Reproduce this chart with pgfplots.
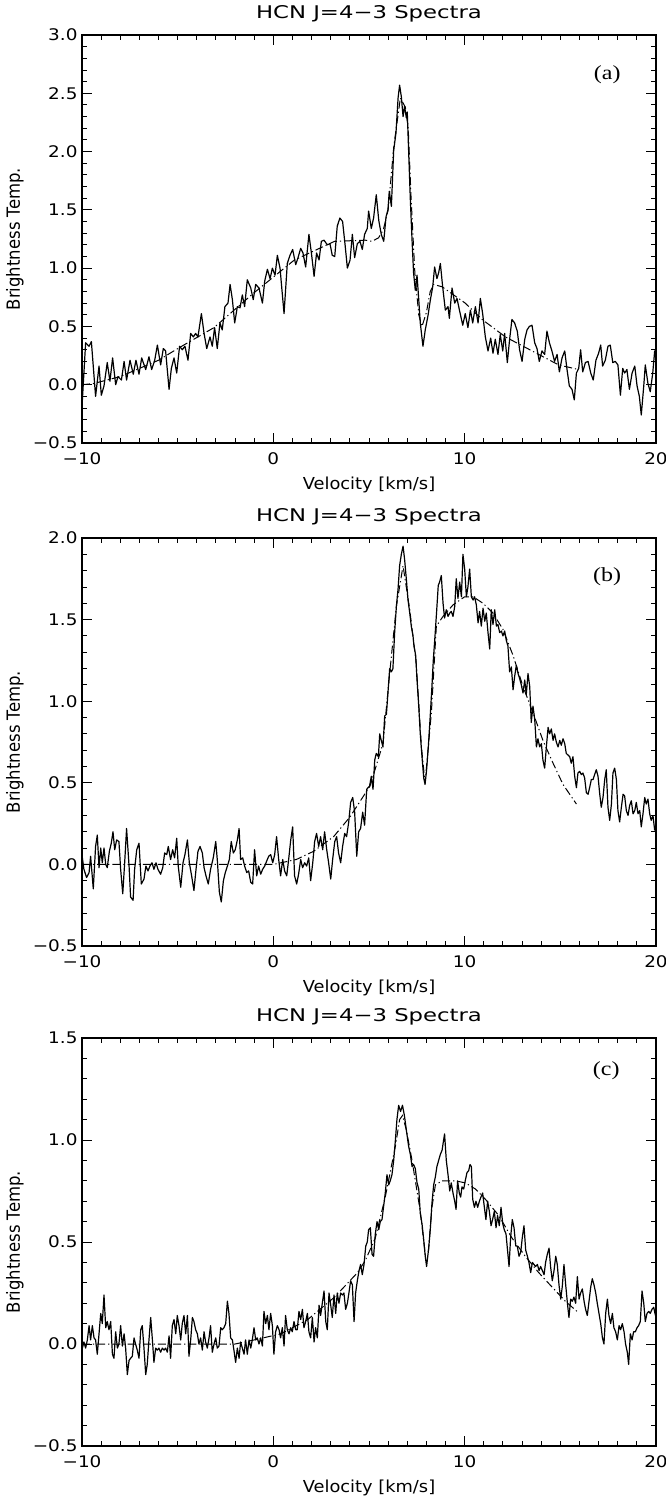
\documentclass[border=0pt]{standalone}
\usepackage{fontspec}
\setmainfont{DejaVu Sans}
\newfontfamily\titlefont{DejaVu Sans}[FakeStretch=1.3]
\newfontfamily\tickfont{DejaVu Sans}[FakeStretch=1.15]
\newfontfamily\labfont{DejaVu Sans}[FakeStretch=1.08]
\newfontfamily\lblfont{Liberation Serif}[FakeStretch=1.2]
\usepackage{graphicx}
\usepackage{pgfplots}
\pgfplotsset{compat=1.18}

% observed spectra (velocity, brightness temperature)
\pgfplotstableread{
v T
-9.98 -0.13
-9.81 0.36
-9.63 0.33
-9.51 0.37
-9.29 -0.10
-9.11 0.16
-8.99 -0.09
-8.85 -0.01
-8.68 0.19
-8.54 0.03
-8.40 0.23
-8.24 0.00
-8.12 0.07
-7.94 0.04
-7.80 0.20
-7.67 0.04
-7.49 0.21
-7.32 0.09
-7.18 0.21
-7.02 0.09
-6.88 0.23
-6.67 0.13
-6.50 0.24
-6.36 0.13
-6.20 0.21
-6.06 0.34
-5.89 0.17
-5.75 0.31
-5.63 0.29
-5.45 -0.04
-5.33 0.14
-5.19 0.23
-5.05 0.10
-4.90 0.33
-4.76 0.30
-4.62 0.33
-4.46 0.21
-4.32 0.44
-4.18 0.41
-4.06 0.44
-3.94 0.41
-3.76 0.61
-3.62 0.44
-3.48 0.31
-3.31 0.41
-3.19 0.33
-3.07 0.49
-2.93 0.31
-2.79 0.53
-2.67 0.47
-2.53 0.67
-2.37 0.70
-2.26 0.86
-2.14 0.73
-2.02 0.53
-1.88 0.67
-1.74 0.66
-1.62 0.77
-1.50 0.67
-1.36 0.90
-1.18 0.83
-1.05 0.73
-0.92 0.86
-0.75 0.83
-0.57 0.70
-0.45 0.89
-0.31 0.99
-0.17 0.91
-0.05 1.00
0.09 0.94
0.21 1.11
0.35 1.00
0.56 0.61
0.73 1.04
0.87 1.11
1.01 1.16
1.17 1.03
1.29 1.09
1.43 1.17
1.55 1.13
1.69 1.01
1.86 1.29
1.99 1.13
2.13 0.93
2.26 1.13
2.39 1.07
2.51 1.23
2.65 1.24
2.82 1.20
2.96 1.21
3.08 1.11
3.21 1.10
3.34 1.36
3.48 1.43
3.62 1.40
3.75 1.20
3.87 1.00
4.01 1.07
4.13 1.29
4.25 1.09
4.39 1.21
4.53 1.23
4.65 1.16
4.77 1.29
4.91 1.34
4.98 1.49
5.12 1.34
5.24 1.43
5.38 1.63
5.51 1.41
5.64 1.29
5.77 1.23
5.89 1.44
5.99 1.50
6.06 1.66
6.17 1.53
6.29 2.01
6.41 2.16
6.52 2.46
6.60 2.57
6.69 2.47
6.78 2.30
6.86 2.39
6.95 2.29
7.00 2.34
7.07 2.01
7.16 1.59
7.25 1.24
7.33 0.96
7.42 0.81
7.51 0.94
7.60 0.73
7.68 0.53
7.82 0.33
7.94 0.47
8.08 0.59
8.21 0.73
8.33 0.84
8.43 1.01
8.55 0.91
8.64 0.96
8.73 1.04
8.85 0.84
8.99 0.64
9.13 0.67
9.20 0.57
9.34 0.83
9.48 0.70
9.60 0.74
9.74 0.63
9.90 0.51
10.03 0.61
10.17 0.49
10.30 0.64
10.42 0.53
10.56 0.67
10.70 0.53
10.82 0.74
10.94 0.61
11.08 0.41
11.22 0.29
11.36 0.40
11.48 0.27
11.60 0.39
11.74 0.26
11.86 0.43
11.99 0.29
12.09 0.44
12.23 0.19
12.35 0.39
12.47 0.56
12.61 0.53
12.75 0.46
12.87 0.30
13.00 0.20
13.14 0.39
13.26 0.47
13.38 0.50
13.52 0.51
13.66 0.36
13.78 0.31
13.90 0.20
14.04 0.29
14.18 0.26
14.30 0.46
14.43 0.36
14.56 0.29
14.70 0.20
14.83 0.26
14.95 0.11
15.09 0.23
15.23 0.29
15.35 0.13
15.47 -0.01
15.61 -0.04
15.73 -0.13
15.84 0.10
15.96 0.14
16.06 0.30
16.17 0.11
16.31 0.19
16.45 0.20
16.59 0.10
16.72 0.04
16.86 0.21
17.00 0.27
17.11 0.34
17.21 0.16
17.35 0.21
17.49 0.33
17.61 0.34
17.74 0.19
17.87 0.20
18.01 0.17
18.14 -0.09
18.26 0.14
18.36 0.10
18.48 0.13
18.61 -0.04
18.75 0.10
18.89 0.16
19.01 -0.01
19.13 -0.10
19.23 -0.26
19.36 -0.01
19.44 0.17
19.58 0.01
19.70 -0.06
19.83 0.10
19.93 0.29
20.00 0.21
}\specA

\pgfplotstableread{
v T
-10.00 0.00
-9.40 0.01
-8.00 0.07
-7.00 0.14
-6.00 0.21
-5.00 0.31
-3.10 0.49
-1.00 0.79
1.10 1.07
3.20 1.23
4.80 1.24
5.15 1.23
5.50 1.26
5.75 1.33
6.00 1.50
6.30 2.05
6.64 2.46
6.90 2.38
7.05 2.20
7.20 1.60
7.40 0.95
7.60 0.60
7.77 0.50
8.00 0.62
8.20 0.80
8.38 0.86
8.82 0.84
10.03 0.70
10.91 0.56
12.13 0.41
13.52 0.29
14.91 0.17
15.96 0.13
}\fitA

\pgfplotstableread{
v T
-9.98 0.04
-9.90 -0.03
-9.76 -0.08
-9.63 -0.05
-9.55 0.05
-9.41 -0.15
-9.29 0.11
-9.20 0.18
-9.11 -0.02
-9.02 0.10
-8.94 0.01
-8.85 0.10
-8.76 0.00
-8.68 -0.02
-8.57 0.08
-8.47 0.13
-8.38 0.20
-8.29 0.09
-8.19 0.15
-8.07 0.14
-7.98 -0.03
-7.87 -0.18
-7.77 0.01
-7.67 0.22
-7.54 -0.01
-7.46 -0.20
-7.33 -0.22
-7.25 -0.03
-7.14 0.09
-7.02 0.13
-6.90 -0.12
-6.76 -0.09
-6.66 -0.01
-6.55 -0.04
-6.45 -0.01
-6.34 0.01
-6.24 -0.03
-6.13 0.01
-6.03 -0.03
-5.89 -0.06
-5.78 -0.02
-5.68 0.07
-5.57 0.06
-5.49 0.11
-5.37 0.03
-5.26 0.09
-5.16 0.04
-5.05 0.16
-4.97 -0.01
-4.84 -0.14
-4.72 0.01
-4.62 0.06
-4.49 0.15
-4.39 0.01
-4.27 -0.07
-4.15 -0.16
-4.04 -0.03
-3.94 0.08
-3.83 0.11
-3.71 0.07
-3.62 -0.02
-3.52 -0.07
-3.40 -0.12
-3.28 -0.03
-3.14 0.04
-3.01 0.14
-2.93 0.03
-2.82 -0.17
-2.72 -0.23
-2.61 -0.10
-2.51 -0.05
-2.40 -0.01
-2.30 0.03
-2.20 0.14
-2.09 0.07
-1.99 0.09
-1.88 0.15
-1.79 0.22
-1.71 0.03
-1.60 0.04
-1.50 -0.01
-1.39 -0.05
-1.29 -0.04
-1.18 -0.11
-1.08 -0.12
-0.98 0.09
-0.87 -0.07
-0.77 -0.01
-0.66 -0.06
-0.56 -0.03
-0.45 -0.01
-0.35 0.02
-0.24 0.05
-0.14 0.06
-0.03 0.01
0.07 0.06
0.17 0.17
0.28 0.03
0.38 -0.07
0.49 0.03
0.59 -0.04
0.70 -0.07
0.80 0.03
0.91 0.15
1.01 0.23
1.11 -0.07
1.22 -0.12
1.32 -0.06
1.43 0.03
1.53 -0.02
1.64 0.01
1.74 -0.01
1.85 0.04
1.95 -0.10
2.06 0.01
2.16 0.14
2.26 0.19
2.37 0.11
2.47 0.17
2.58 0.09
2.68 0.20
2.79 0.09
2.89 0.01
3.00 -0.09
3.10 0.03
3.21 0.14
3.31 0.17
3.41 0.07
3.52 0.01
3.62 0.11
3.73 0.19
3.83 0.17
3.94 0.26
4.04 0.38
4.15 0.41
4.25 0.32
4.36 0.05
4.46 0.20
4.56 0.22
4.67 0.32
4.77 0.24
4.88 0.46
4.95 0.47
5.03 0.48
5.12 0.54
5.21 0.46
5.30 0.64
5.38 0.68
5.49 0.66
5.56 0.80
5.64 0.76
5.73 0.72
5.82 0.91
5.91 0.92
5.99 1.05
6.08 1.20
6.17 1.18
6.25 1.20
6.34 1.42
6.43 1.58
6.52 1.69
6.60 1.83
6.69 1.90
6.78 1.95
6.86 1.87
6.95 1.75
7.04 1.62
7.13 1.54
7.21 1.46
7.30 1.40
7.35 1.34
7.44 1.28
7.51 1.13
7.60 0.97
7.68 0.80
7.77 0.66
7.86 0.53
7.93 0.49
8.01 0.58
8.10 0.72
8.19 0.89
8.28 1.07
8.36 1.25
8.45 1.40
8.54 1.56
8.62 1.71
8.69 1.73
8.78 1.77
8.87 1.60
8.95 1.51
9.04 1.56
9.13 1.52
9.22 1.54
9.30 1.55
9.39 1.52
9.48 1.58
9.56 1.75
9.65 1.63
9.74 1.73
9.83 1.64
9.91 1.90
10.00 1.81
10.09 1.64
10.17 1.70
10.26 1.81
10.35 1.64
10.44 1.62
10.52 1.64
10.61 1.59
10.70 1.48
10.78 1.55
10.87 1.46
10.96 1.57
11.05 1.49
11.13 1.54
11.22 1.42
11.31 1.32
11.39 1.56
11.48 1.47
11.57 1.56
11.66 1.46
11.74 1.47
11.83 1.42
11.92 1.43
12.00 1.40
12.09 1.43
12.18 1.37
12.26 1.34
12.35 1.18
12.44 1.21
12.53 1.07
12.61 1.15
12.70 1.22
12.79 1.17
12.87 1.14
12.96 1.10
13.05 1.05
13.14 1.13
13.22 1.04
13.31 1.17
13.40 1.09
13.48 0.87
13.57 0.97
13.66 0.89
13.75 0.72
13.83 0.77
13.92 0.72
14.01 0.74
14.09 0.64
14.18 0.59
14.27 0.72
14.36 0.84
14.44 0.80
14.53 0.83
14.62 0.76
14.70 0.80
14.79 0.75
14.88 0.72
14.97 0.76
15.05 0.73
15.14 0.77
15.23 0.74
15.31 0.68
15.40 0.67
15.49 0.66
15.57 0.62
15.66 0.66
15.75 0.54
15.84 0.47
15.92 0.56
16.01 0.57
16.10 0.55
16.18 0.56
16.27 0.53
16.36 0.44
16.45 0.43
16.53 0.47
16.62 0.52
16.71 0.52
16.79 0.55
16.88 0.58
16.97 0.54
17.06 0.43
17.14 0.35
17.23 0.41
17.32 0.52
17.40 0.58
17.49 0.35
17.58 0.27
17.67 0.37
17.75 0.56
17.84 0.59
17.93 0.52
18.01 0.33
18.10 0.26
18.19 0.35
18.28 0.43
18.36 0.42
18.45 0.33
18.54 0.30
18.62 0.36
18.71 0.39
18.80 0.31
18.89 0.33
18.97 0.38
19.06 0.31
19.15 0.33
19.23 0.23
19.32 0.31
19.41 0.41
19.49 0.37
19.58 0.40
19.67 0.31
19.75 0.27
19.84 0.30
19.93 0.21
20.00 0.22
}\specB

\pgfplotstableread{
v T
-10.00 0.00
0.00 0.00
1.20 0.03
2.10 0.08
3.15 0.17
4.00 0.29
5.05 0.48
5.21 0.54
5.73 0.74
6.08 1.17
6.43 1.58
6.78 1.83
7.13 1.56
7.47 1.23
7.74 0.72
7.93 0.50
8.26 0.93
8.52 1.46
8.87 1.52
9.39 1.59
10.00 1.64
10.44 1.64
10.96 1.60
11.48 1.54
12.00 1.44
12.53 1.28
13.05 1.09
13.57 0.93
14.09 0.76
14.62 0.62
15.14 0.49
15.84 0.37
}\fitB

\pgfplotstableread{
v T
-9.98 -0.02
-9.90 0.01
-9.81 -0.02
-9.72 0.02
-9.63 0.09
-9.55 0.02
-9.46 0.09
-9.37 0.03
-9.29 0.02
-9.20 -0.05
-9.11 0.05
-9.02 0.15
-8.94 0.10
-8.85 0.24
-8.76 0.08
-8.68 0.11
-8.59 0.07
-8.50 0.11
-8.41 -0.05
-8.33 -0.07
-8.24 0.06
-8.15 -0.02
-8.07 0.00
-7.98 0.09
-7.89 -0.01
-7.80 0.05
-7.72 -0.02
-7.63 -0.15
-7.54 -0.08
-7.46 -0.07
-7.37 -0.06
-7.28 0.03
-7.20 0.00
-7.11 -0.03
-7.02 -0.07
-6.93 0.07
-6.85 0.09
-6.76 -0.02
-6.67 -0.15
-6.59 -0.10
-6.50 0.02
-6.41 0.13
-6.32 0.02
-6.24 -0.09
-6.15 -0.02
-6.06 -0.03
-5.98 -0.02
-5.89 -0.04
-5.80 -0.02
-5.71 -0.03
-5.63 -0.02
-5.54 -0.04
-5.45 0.04
-5.37 -0.07
-5.28 0.09
-5.19 0.12
-5.10 0.05
-5.02 0.14
-4.93 0.09
-4.84 0.02
-4.76 0.10
-4.67 0.14
-4.58 0.05
-4.49 0.14
-4.41 -0.06
-4.32 0.02
-4.23 0.13
-4.15 0.11
-4.06 0.07
-3.97 0.05
-3.89 0.00
-3.80 0.03
-3.71 -0.03
-3.62 0.06
-3.54 0.01
-3.45 -0.02
-3.36 0.03
-3.28 0.09
-3.19 -0.04
-3.10 0.00
-3.01 0.03
-2.93 -0.02
-2.84 -0.01
-2.75 0.08
-2.67 0.07
-2.58 0.08
-2.49 0.10
-2.40 0.21
-2.32 0.15
-2.23 0.03
-2.14 0.02
-2.06 -0.03
-1.97 -0.09
-1.88 -0.02
-1.79 -0.07
-1.71 0.01
-1.62 -0.02
-1.53 -0.05
-1.45 0.02
-1.36 -0.05
-1.27 0.02
-1.18 -0.02
-1.10 0.02
-1.01 0.08
-0.92 0.02
-0.84 0.03
-0.75 0.00
-0.66 0.03
-0.57 -0.01
-0.49 0.16
-0.40 0.10
-0.31 0.14
-0.23 0.07
-0.14 0.15
-0.05 0.09
0.03 -0.05
0.12 0.06
0.21 0.09
0.30 0.07
0.38 0.03
0.47 0.08
0.56 -0.01
0.64 0.14
0.73 0.07
0.82 0.05
0.91 0.08
0.99 0.06
1.08 0.11
1.17 0.07
1.25 0.07
1.34 0.16
1.43 0.12
1.52 0.17
1.60 0.08
1.69 0.11
1.78 0.15
1.86 0.06
1.95 0.03
2.04 0.13
2.13 0.01
2.21 0.08
2.30 0.03
2.39 0.19
2.47 0.14
2.56 0.20
2.65 0.26
2.74 0.11
2.82 0.07
2.91 0.25
3.00 0.19
3.08 0.13
3.17 0.24
3.26 0.15
3.34 0.25
3.43 0.20
3.52 0.25
3.61 0.24
3.69 0.25
3.78 0.17
3.87 0.20
3.95 0.25
4.04 0.31
4.13 0.29
4.22 0.11
4.30 0.25
4.39 0.31
4.48 0.36
4.56 0.39
4.65 0.34
4.74 0.39
4.83 0.48
4.91 0.50
4.98 0.56
5.07 0.57
5.16 0.44
5.24 0.43
5.33 0.54
5.42 0.60
5.51 0.56
5.59 0.60
5.68 0.61
5.77 0.68
5.85 0.74
5.94 0.83
6.03 0.78
6.11 0.80
6.20 0.83
6.29 0.90
6.38 1.00
6.46 1.10
6.55 1.17
6.65 1.14
6.75 1.17
6.85 1.12
6.95 1.05
7.07 0.97
7.16 0.93
7.25 0.87
7.33 0.88
7.42 0.86
7.51 0.79
7.60 0.76
7.68 0.64
7.77 0.59
7.86 0.51
7.94 0.43
8.01 0.38
8.12 0.47
8.21 0.57
8.29 0.69
8.38 0.78
8.47 0.82
8.55 0.87
8.64 0.90
8.73 0.93
8.82 0.95
8.90 1.00
8.95 1.03
9.04 0.90
9.13 0.83
9.22 0.75
9.30 0.79
9.39 0.74
9.48 0.70
9.55 0.66
9.63 0.80
9.72 0.74
9.79 0.72
9.86 0.77
9.95 0.76
10.03 0.80
10.12 0.84
10.21 0.85
10.28 0.88
10.35 0.87
10.42 0.71
10.51 0.67
10.59 0.70
10.68 0.67
10.77 0.70
10.85 0.72
10.94 0.74
11.03 0.67
11.11 0.61
11.20 0.70
11.29 0.65
11.38 0.58
11.46 0.61
11.55 0.65
11.64 0.57
11.72 0.63
11.81 0.58
11.90 0.67
11.99 0.59
12.07 0.56
12.16 0.54
12.23 0.47
12.32 0.38
12.40 0.52
12.49 0.61
12.58 0.57
12.67 0.48
12.75 0.48
12.84 0.43
12.93 0.45
13.01 0.52
13.10 0.58
13.19 0.46
13.28 0.43
13.36 0.40
13.45 0.35
13.54 0.40
13.62 0.39
13.71 0.38
13.80 0.39
13.89 0.36
13.97 0.38
14.06 0.36
14.15 0.34
14.23 0.40
14.32 0.44
14.41 0.47
14.49 0.38
14.58 0.31
14.67 0.36
14.76 0.43
14.84 0.39
14.93 0.29
15.02 0.22
15.10 0.28
15.19 0.39
15.28 0.29
15.37 0.20
15.45 0.13
15.54 0.22
15.63 0.21
15.71 0.23
15.80 0.20
15.89 0.33
15.98 0.22
16.06 0.25
16.15 0.27
16.24 0.21
16.32 0.17
16.41 0.14
16.50 0.21
16.59 0.28
16.67 0.32
16.76 0.29
16.85 0.25
16.93 0.20
17.02 0.15
17.11 0.10
17.20 0.03
17.28 0.00
17.37 0.15
17.46 0.22
17.54 0.14
17.63 0.10
17.72 0.15
17.80 0.08
17.89 0.06
17.98 0.02
18.07 0.09
18.15 0.07
18.24 0.10
18.33 0.06
18.41 0.00
18.50 -0.04
18.57 -0.10
18.66 0.05
18.75 0.02
18.83 0.06
18.92 0.06
19.01 0.08
19.09 0.09
19.18 0.11
19.27 0.26
19.36 0.20
19.44 0.11
19.53 0.15
19.62 0.16
19.70 0.15
19.79 0.17
19.88 0.18
19.97 0.14
}\specC

\pgfplotstableread{
v T
-10.00 0.00
-2.00 0.00
-1.00 0.02
0.40 0.05
1.80 0.12
3.20 0.23
4.40 0.35
4.81 0.41
5.33 0.52
5.85 0.72
6.38 0.97
6.60 1.10
6.75 1.12
6.95 1.05
7.25 0.90
7.68 0.65
7.94 0.44
8.10 0.45
8.29 0.67
8.47 0.78
8.82 0.80
9.51 0.80
10.03 0.79
10.56 0.76
11.08 0.71
11.78 0.63
12.47 0.52
13.17 0.43
13.87 0.35
14.56 0.28
15.26 0.21
15.87 0.16
}\fitC

\pgfplotsset{
  spec/.style={
    scale only axis, width=574pt, height=408pt,
    xmin=-10, xmax=20,
    xtick={-10,0,10,20}, xticklabels={−10,0,10,20},
    minor x tick num=9, minor y tick num=4,
    tick align=inside, major tick length=10pt, minor tick length=5pt,
    axis line style={line width=1.1pt},
    every tick/.style={black, line width=0.9pt},
    ticklabel style={font=\tickfont\fontsize{16}{17}\selectfont},
    yticklabel style={xshift=-1pt},
    xticklabel style={yshift=-6pt},
    title={HCN J=4−3 Spectra},
    title style={at={(axis description cs:0.5,1.037)}, anchor=center,
      yshift=0pt, font=\titlefont\fontsize{17.5}{18}\selectfont},
    xlabel={Velocity [km/s]},
    xlabel style={at={(axis description cs:0.5,-0.103)}, anchor=center,
      font=\labfont\fontsize{16.5}{17}\selectfont},
    ylabel={\scalebox{1}[1.1]{Brightness Temp.}},
    ylabel style={at={(axis description cs:-0.117,0.5)}, anchor=center,
      font=\fontsize{16.5}{17}\selectfont},
  },
  obs/.style={black, line width=1.2pt, line join=round},
  fit/.style={black, line width=1pt, dash pattern=on 8pt off 3pt on 1.2pt off 3pt},
}
\tikzset{panel/.style={font=\lblfont\fontsize{20}{20}\selectfont}}

\begin{document}
\begin{tikzpicture}
\path[use as bounding box] (-82pt,35pt) rectangle (584pt,-1462pt);

\begin{axis}[spec, at={(0pt,0pt)}, anchor=north west,
  ymin=-0.5, ymax=3.0,
  ytick={-0.5,0,0.5,1,1.5,2,2.5,3},
  yticklabels={−0.5,0.0,0.5,1.0,1.5,2.0,2.5,3.0}]
\addplot[obs] table[x=v,y=T] {\specA};
\addplot[fit] table[x=v,y=T] {\fitA};
\node[panel] at (axis cs:17.45,2.66) {(a)};
\end{axis}

\begin{axis}[spec, at={(0pt,-503pt)}, anchor=north west,
  ymin=-0.5, ymax=2.0,
  ytick={-0.5,0,0.5,1,1.5,2},
  yticklabels={−0.5,0.0,0.5,1.0,1.5,2.0}]
\addplot[obs] table[x=v,y=T] {\specB};
\addplot[fit] table[x=v,y=T] {\fitB};
\node[panel] at (axis cs:17.45,1.76) {(b)};
\end{axis}

\begin{axis}[spec, at={(0pt,-1003pt)}, anchor=north west,
  ymin=-0.5, ymax=1.5,
  ytick={-0.5,0,0.5,1,1.5},
  yticklabels={−0.5,0.0,0.5,1.0,1.5}]
\addplot[obs] table[x=v,y=T] {\specC};
\addplot[fit] table[x=v,y=T] {\fitC};
\node[panel] at (axis cs:17.4,1.34) {(c)};
\end{axis}
\end{tikzpicture}
\end{document}
